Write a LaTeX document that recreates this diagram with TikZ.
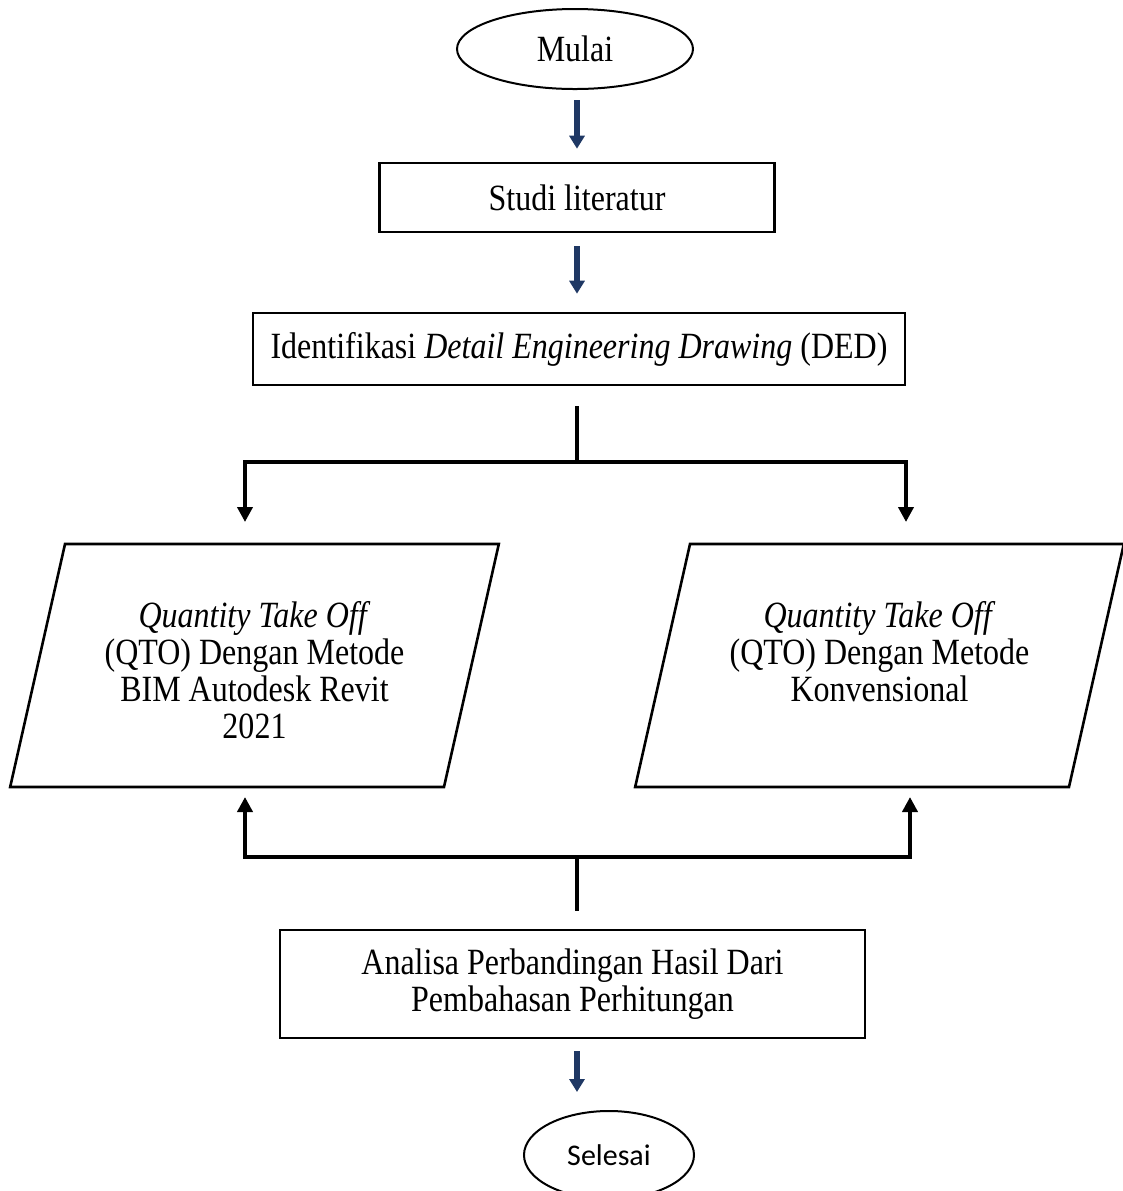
\documentclass[tikz,border=0pt]{standalone}
\usepackage{fontspec}
\setmainfont{Liberation Serif}[FakeStretch=0.865]
\newfontfamily\selfont{Carlito}
\usepackage{tikz}
\usetikzlibrary{shapes.geometric}
\usetikzlibrary{arrows.meta}
\usetikzlibrary{positioning}
\definecolor{navy}{HTML}{1F3864}

\begin{document}
\begin{tikzpicture}[x=0.5pt,y=-0.5pt,
    every node/.style={font=\fontsize{18.5}{18.5}\selectfont,align=center,inner sep=2pt},
    term/.style={draw,ellipse,line width=1pt},
    box/.style={draw,rectangle,line width=1.3pt},
    data/.style={draw,trapezium,trapezium left angle=74,trapezium right angle=106,
                 trapezium stretches=true,line width=1.3pt,minimum width=244.5pt,minimum height=121.5pt},
    blue/.style={navy,line width=3pt,-{Triangle[width=7.5pt,length=6.5pt]}},
    line/.style={line width=2pt}]
  \useasboundingbox (0,0) rectangle (1123,1191);

  \node[term,minimum width=118pt,minimum height=40pt] (mulai) at (575,49) {Mulai};
  \node[box,minimum width=197.5pt,minimum height=34.5pt] (studi) at (577,197.5) {Studi literatur};
  \node[box,minimum width=326pt,minimum height=36pt] (ded) at (579,349)
    {Identifikasi \textit{Detail Engineering Drawing} (DED)};

  \node[data] (bim) at (254.5,665.5)
    {\rule{0pt}{18pt}\textit{Quantity Take Off}\\(QTO) Dengan Metode\\BIM Autodesk Revit\\2021};
  \node[data] (konv) at (879.5,665.5)
    {\rule{0pt}{18pt}\textit{Quantity Take Off}\\(QTO) Dengan Metode\\Konvensional\\\phantom{2021}};

  \node[box,minimum width=292.5pt,minimum height=54pt] (analisa) at (572.5,984)
    {Analisa Perbandingan Hasil Dari\\Pembahasan Perhitungan};
  \node[term,minimum width=85pt,minimum height=44pt,font=\selfont\fontsize{15}{18}\selectfont] (selesai) at (609,1155) {Selesai};

  % titik cabang
  \coordinate (split) at (577,462);
  \coordinate (bimin) at (245,522);
  \coordinate (konvin) at (906,522);
  \coordinate (join) at (577,857);
  \coordinate (bimout) at (245,797);
  \coordinate (konvout) at (910,797);

  \draw[blue,shorten <=5pt,shorten >=6.5pt] (mulai.south -| studi.north) -- (studi.north);
  \draw[blue,shorten <=6.5pt,shorten >=9pt] (studi.south) -- (studi.south |- ded.north);
  \draw[line,shorten <=10pt] (ded.south -| split) -- (split);
  \draw[line,-{Triangle[width=7.5pt,length=7.5pt]}] (split) -| (konvin);
  \draw[line,-{Triangle[width=7.5pt,length=7.5pt]}] (split) -| (bimin);
  \draw[line,shorten <=9pt] (analisa.north -| join) -- (join);
  \draw[line,-{Triangle[width=7.5pt,length=7.5pt]}] (join) -| (bimout);
  \draw[line,-{Triangle[width=7.5pt,length=7.5pt]}] (join) -| (konvout);
  \draw[blue,shorten <=6pt,shorten >=9pt] (analisa.south -| join) -- (join |- selesai.north);
\end{tikzpicture}
\end{document}
